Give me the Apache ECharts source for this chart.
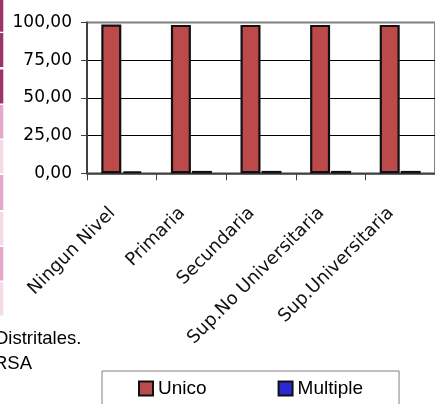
<!DOCTYPE html>
<html>
<head>
<meta charset="utf-8">
<script src="https://cdn.jsdelivr.net/npm/echarts@6/dist/echarts.min.js"></script>
<style>
html,body{margin:0;padding:0;background:#fff;}
#chart{width:435px;height:404px;}
</style>
</head>
<body>
<div id="chart"></div>
<script>
const categories = ['Ningun Nivel', 'Primaria', 'Secundaria', 'Sup.No Universitaria', 'Sup.Universitaria'];
const unicoValues = [98.6, 98.4, 98.4, 98.4, 98.4];
const multipleValues = [1.4, 1.6, 1.6, 1.6, 1.6];
const yTickLabels = ['0,00', '25,00', '50,00', '75,00', '100,00'];
const seriesNames = ['Unico', 'Multiple'];
const footTexts = ['Distritales.', 'RSA'];

const stripes = [
  [0, 31.7, '#9c3468'], [33, 34, '#9c3468'], [69.5, 34, '#9c3468'],
  [105, 33.5, '#e3a9c9'], [140, 33.5, '#f5dbe8'], [175, 35, '#e3a9c9'],
  [212, 33.5, '#f5dbe8'], [247, 33.5, '#e3a9c9'], [282, 33.5, '#f5dbe8']
];

const chart = echarts.init(document.getElementById('chart'), null, { renderer: 'canvas' });
const option = {
  animation: false,
  backgroundColor: '#fff',
  grid: { left: 87, top: 22.5, width: 360, height: 150.8, show: true, borderColor: '#808080', borderWidth: 2, backgroundColor: 'transparent' },
  xAxis: {
    type: 'category',
    data: categories,
    axisLine: { lineStyle: { color: '#404040', width: 1.5 } },
    axisTick: { show: true, length: 7, lineStyle: { color: '#404040', width: 1 } },
    axisLabel: { rotate: 45, interval: 0, margin: 28, padding: [0, 13, 0, 0], color: '#111', fontFamily: 'DejaVu Sans', fontSize: 18 }
  },
  yAxis: {
    type: 'value', min: 0, max: 100, interval: 25,
    axisLine: { show: true, lineStyle: { color: '#404040', width: 2 } },
    axisTick: { show: true, length: 6, lineStyle: { color: '#404040' } },
    axisLabel: { margin: 15, color: '#000', fontFamily: 'DejaVu Sans', fontSize: 17,
      formatter: function (v) { return yTickLabels[Math.round(v / 25)]; } },
    splitLine: { show: true, lineStyle: { color: ['#404040', '#000', '#000', '#000', '#808080'], width: 1 } }
  },
  legend: {
    left: 102, top: 371,
    data: seriesNames,
    icon: 'rect', itemWidth: 14, itemHeight: 14, itemGap: 71,
    borderColor: '#808080', borderWidth: 1,
    padding: [8, 36, 30, 36],
    textStyle: { color: '#000', fontFamily: 'Liberation Sans', fontSize: 19 }
  },
  series: [
    { name: seriesNames[0], type: 'bar', data: unicoValues, barWidth: 20, barGap: '5%', barCategoryGap: '40%',
      itemStyle: { color: '#bd4a4a', borderColor: '#111', borderWidth: 2.2 } },
    { name: seriesNames[1], type: 'bar', data: multipleValues, barWidth: 20,
      itemStyle: { color: '#2a2ad0', borderColor: '#111', borderWidth: 2.2 } }
  ],
  graphic: stripes.map(s => ({ type: 'rect', shape: { x: 0, y: s[0], width: 3.3, height: s[1] }, style: { fill: s[2] }, silent: true }))
    .concat([
      { type: 'text', left: -5, top: 329, style: { text: footTexts[0], fill: '#000', font: '18.5px "Liberation Sans"' } },
      { type: 'text', left: -6, top: 354, style: { text: footTexts[1], fill: '#000', font: '18.5px "Liberation Sans"' } }
    ])
};
chart.setOption(option);
</script>
</body>
</html>
